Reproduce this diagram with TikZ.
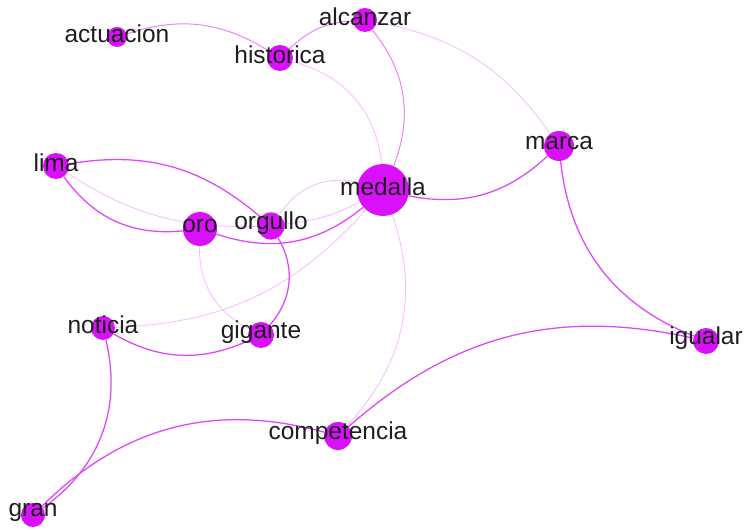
\documentclass[tikz,border=0pt]{standalone}
\usepackage{fontspec}
\setmainfont{Liberation Sans}
\usetikzlibrary{backgrounds}
\definecolor{nodecol}{RGB}{218,16,250}
\definecolor{linkcolA}{RGB}{222,70,250}
\definecolor{linkcolB}{RGB}{232,130,252}
\definecolor{linkcolC}{RGB}{244,190,255}
\definecolor{textcol}{RGB}{30,30,30}
\tikzset{
	word/.style={
		circle,
		fill=nodecol,
		draw=none,
		inner sep=0pt,
		minimum size=#1},
	wordlabel/.style={
		text=textcol,
		yshift=2pt,
		font=\fontsize{17.4}{20}\selectfont},
	link1/.style={draw=linkcolA, line width=0.9pt},
	link2/.style={draw=linkcolB, line width=0.7pt},
	link3/.style={draw=linkcolC, line width=0.6pt}
}

\begin{document}
\begin{tikzpicture}
[x=0.025cm, y=-0.025cm]
\useasboundingbox (0,0) rectangle (745,530);
\node[word=1.3cm, label={[wordlabel]center:medalla}] (medalla) at (383,190) {};
\node[word=0.5cm, label={[wordlabel]center:actuacion}] (actuacion) at (117,37) {};
\node[word=0.65cm, label={[wordlabel]center:historica}] (historica) at (280,58) {};
\node[word=0.6cm, label={[wordlabel]center:alcanzar}] (alcanzar) at (365,20) {};
\node[word=0.75cm, label={[wordlabel]center:marca}] (marca) at (559,146) {};
\node[word=0.65cm, label={[wordlabel]center:lima}] (lima) at (56,166) {};
\node[word=0.85cm, label={[wordlabel]center:oro}] (oro) at (200,229) {};
\node[word=0.68cm, label={[wordlabel]center:orgullo}] (orgullo) at (271,226) {};
\node[word=0.6cm, label={[wordlabel]center:noticia}] (noticia) at (103,328) {};
\node[word=0.65cm, label={[wordlabel]center:gigante}] (gigante) at (261,335) {};
\node[word=0.7cm, label={[wordlabel]center:competencia}] (competencia) at (338,436) {};
\node[word=0.65cm, label={[wordlabel]center:igualar}] (igualar) at (706,341) {};
\node[word=0.6cm, label={[wordlabel]center:gran}] (gran) at (33,515) {};
\begin{scope}[on background layer]
\draw[link2] (actuacion) to[bend left=25] (historica);
\draw[link2] (historica) to[bend left=20] (alcanzar);
\draw[link3] (historica) to[bend left=35] (medalla);
\draw[link2] (alcanzar) to[bend left=30] (medalla);
\draw[link3] (alcanzar) to[bend left=22] (marca);
\draw[link1] (marca) to[bend left=27] (medalla);
\draw[link1] (igualar) to[bend left=31] (marca);
\draw[link1] (competencia) to[bend left=27] (igualar);
\draw[link3] (medalla) to[bend left=31] (competencia);
\draw[link1] (gran) to[bend left=30] (competencia);
\draw[link1] (noticia) to[bend left=34] (gran);
\draw[link1] (gigante) to[bend left=27] (noticia);
\draw[link3] (medalla) to[bend left=23] (noticia);
\draw[link1] (orgullo) to[bend left=36] (gigante);
\draw[link3] (gigante) to[bend left=32] (oro);
\draw[link1] (lima) to[bend left=25] (orgullo);
\draw[link3] (orgullo) to[bend left=17] (lima);
\draw[link1] (oro) to[bend left=30] (lima);
\draw[link1] (medalla) to[bend left=29] (oro);
\draw[link3] (orgullo) to[bend left=35] (medalla);
\draw[link3] (medalla) to[bend left=10] (orgullo);
\end{scope}
\end{tikzpicture}
\end{document}
